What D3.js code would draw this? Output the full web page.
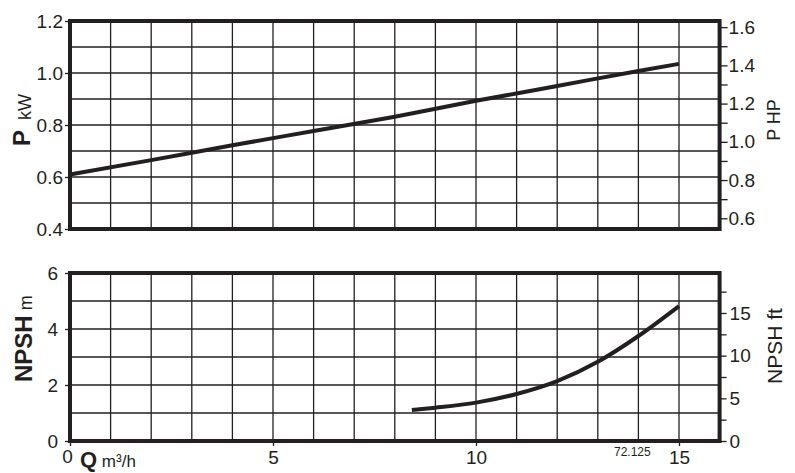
<!DOCTYPE html>
<html><head><meta charset="utf-8">
<script src="https://cdn.jsdelivr.net/npm/d3@7"></script>
<style>
body{margin:0;background:#fff;}
svg{display:block;font-family:"Liberation Sans",Arial,Helvetica,sans-serif;}
</style></head>
<body><svg id="c" width="795" height="473"></svg>
<script>
// ---- data ----
const powerQ = [0, 2, 4, 6, 8, 10, 12, 14, 15];
const powerKW = [0.61, 0.665, 0.722, 0.777, 0.832, 0.893, 0.950, 1.008, 1.035];
const npshQ = [8.42, 9, 10, 11, 12, 13, 14, 15];
const npshM = [1.107, 1.19, 1.37, 1.68, 2.14, 2.83, 3.75, 4.82];
const xTicks = [0, 5, 10, 15];
const pTicks = [0.4, 0.6, 0.8, 1.0, 1.2];
const hpTicks = [0.6, 0.7, 0.8, 0.9, 1.0, 1.1, 1.2, 1.3, 1.4, 1.5, 1.6];
const hpLabels = [0.6, 0.8, 1.0, 1.2, 1.4, 1.6];
const npshTicks = [0, 2, 4, 6];
const ftTicks = [0, 2.5, 5, 7.5, 10, 12.5, 15, 17.5];
const ftLabels = [0, 5, 10, 15];
const KW_TO_HP = 1.36;
const M_TO_FT = 1 / 0.3048;

const ink = "#231f20";
const svg = d3.select("#c");
svg.append("rect").attr("width", 795).attr("height", 473).attr("fill", "#fff");

const x = d3.scaleLinear().domain([0, 16]).range([70, 719.6]);
const yP = d3.scaleLinear().domain([0.4, 1.2]).range([229, 21]);
const yHP = d3.scaleLinear().domain([0.4 * KW_TO_HP, 1.2 * KW_TO_HP]).range([229, 21]);
const yN = d3.scaleLinear().domain([0, 6]).range([441, 273]);
const yFt = d3.scaleLinear().domain([0, 6 * M_TO_FT]).range([441, 273]);

function panel(y, step) {
  const g = svg.append("g");
  const [y0, y1] = y.domain();
  const vx = d3.range(1, 16);
  g.selectAll("line.v").data(vx).join("line")
    .attr("x1", d => x(d)).attr("x2", d => x(d))
    .attr("y1", y.range()[0]).attr("y2", y.range()[1])
    .attr("stroke", ink).attr("stroke-width", 1.3);
  const hy = d3.range(1, Math.round((y1 - y0) / step)).map(i => y0 + i * step);
  g.selectAll("line.h").data(hy).join("line")
    .attr("x1", x(0)).attr("x2", x(16))
    .attr("y1", d => y(d)).attr("y2", d => y(d))
    .attr("stroke", ink).attr("stroke-width", 1.3);
  g.append("rect")
    .attr("x", x(0)).attr("y", y.range()[1])
    .attr("width", x(16) - x(0)).attr("height", y.range()[0] - y.range()[1])
    .attr("fill", "none").attr("stroke", ink).attr("stroke-width", 4);
  return g;
}
panel(yP, 0.1);
panel(yN, 1);

function styleAxis(g, fs) {
  g.select(".domain").remove();
  g.selectAll(".tick line").attr("stroke", ink).attr("stroke-width", 1.3);
  g.selectAll(".tick text").attr("fill", ink).style("font-size", fs + "px")
    .style("font-family", '"Liberation Sans",Arial,sans-serif');
}

// left axes
const axL1 = svg.append("g").attr("transform", `translate(${x(0)},0)`)
  .call(d3.axisLeft(yP).tickValues(pTicks).tickFormat(d3.format(".1f")).tickSize(5).tickPadding(2));
styleAxis(axL1, 19);
const axL2 = svg.append("g").attr("transform", `translate(${x(0)},0)`)
  .call(d3.axisLeft(yN).tickValues(npshTicks).tickFormat(d3.format("d")).tickSize(5).tickPadding(7));
styleAxis(axL2, 19);

// right axes
const axR1 = svg.append("g").attr("transform", `translate(${x(16)},0)`)
  .call(d3.axisRight(yHP).tickValues(hpTicks).tickSize(8).tickPadding(1)
    .tickFormat(d => hpLabels.some(v => Math.abs(v - d) < 1e-6) ? d3.format(".1f")(d) : ""));
styleAxis(axR1, 19);
const axR2 = svg.append("g").attr("transform", `translate(${x(16)},0)`)
  .call(d3.axisRight(yFt).tickValues(ftTicks).tickSize(7).tickPadding(3)
    .tickFormat(d => ftLabels.includes(d) ? d3.format("d")(d) : ""));
styleAxis(axR2, 19);

// bottom axis
const axB = svg.append("g").attr("transform", `translate(0,${yN.range()[0]})`)
  .call(d3.axisBottom(x).tickValues(xTicks).tickFormat(d3.format("d")).tickSize(5).tickPadding(5));
styleAxis(axB, 19);
axB.selectAll(".tick text").filter(d => d === 0).attr("x", -3).attr("dy", "0.62em");

// curves
const line = (yS) => d3.line().x(d => x(d[0])).y(d => yS(d[1])).curve(d3.curveMonotoneX);
svg.append("path").datum(powerQ.map((q, i) => [q, powerKW[i]]))
  .attr("d", line(yP)).attr("fill", "none").attr("stroke", ink).attr("stroke-width", 4);
svg.append("path").datum(npshQ.map((q, i) => [q, npshM[i]]))
  .attr("d", line(yN)).attr("fill", "none").attr("stroke", ink).attr("stroke-width", 4);

// axis titles
svg.append("text").attr("transform", "translate(30,146) rotate(-90)").attr("fill", ink)
  .style("font-weight", "bold").style("font-size", "24px").text("P");
svg.append("text").attr("transform", "translate(31,120) rotate(-90)").attr("fill", ink)
  .style("font-size", "18px").text("kW");
const t2 = svg.append("text").attr("transform", "translate(32,382) rotate(-90)").attr("fill", ink);
t2.append("tspan").text("NPSH").style("font-weight", "bold").style("font-size", "24px");
t2.append("tspan").text(" m").style("font-size", "18px");
svg.append("text").attr("transform", "translate(780,120) rotate(-90)").attr("text-anchor", "middle")
  .attr("fill", ink).style("font-size", "18px").text("P HP");
svg.append("text").attr("transform", "translate(782,346) rotate(-90)").attr("text-anchor", "middle")
  .attr("fill", ink).style("font-size", "21px").text("NPSH ft");
const t3 = svg.append("text").attr("x", 80).attr("y", 467).attr("fill", ink);
t3.append("tspan").text("Q").style("font-weight", "bold").style("font-size", "22px");
t3.append("tspan").text(" m³/h").style("font-size", "17px");
svg.append("text").attr("x", 614).attr("y", 456).attr("fill", ink).style("font-size", "12px").text("72.125");
</script></body></html>
